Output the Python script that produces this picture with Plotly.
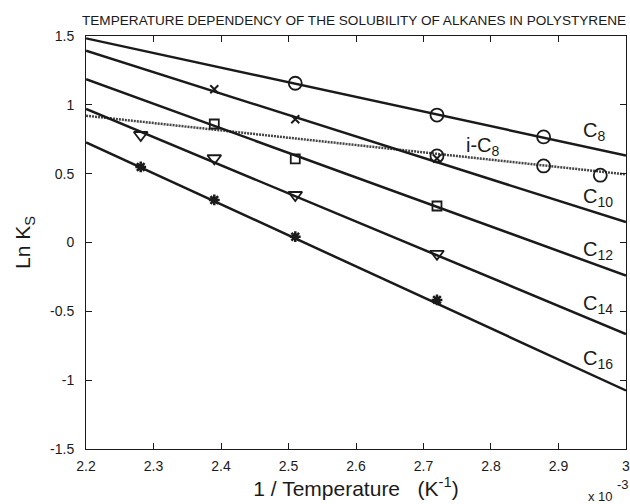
import plotly.graph_objects as go

# ---- data (x in units of 1e-3 K^-1) ----
series_names = ["C8", "i-C8", "C10", "C12", "C14", "C16"]

c8_x = [2.51, 2.72, 2.878]
c8_y = [1.157, 0.926, 0.767]
ic8_x = [2.72, 2.878, 2.962]
ic8_y = [0.629, 0.556, 0.489]
c10_x = [2.39, 2.51, 2.72]
c10_y = [1.113, 0.895, 0.61]
c12_x = [2.39, 2.51, 2.72]
c12_y = [0.861, 0.607, 0.265]
c14_x = [2.281, 2.39, 2.51, 2.72]
c14_y = [0.781, 0.612, 0.345, -0.082]
c16_x = [2.281, 2.39, 2.51, 2.72]
c16_y = [0.549, 0.309, 0.042, -0.417]

# fitted lines, values at x = 2.2 and x = 3.0
fit_x = [2.2, 3.0]
c8_fit = [1.483, 0.632]
ic8_fit = [0.921, 0.495]
c10_fit = [1.393, 0.148]
c12_fit = [1.186, -0.24]
c14_fit = [0.970, -0.665]
c16_fit = [0.728, -1.075]

x_ticks = [2.2, 2.3, 2.4, 2.5, 2.6, 2.7, 2.8, 2.9, 3.0]
x_tick_text = ["2.2", "2.3", "2.4", "2.5", "2.6", "2.7", "2.8", "2.9", "3"]
y_ticks = [-1.5, -1, -0.5, 0, 0.5, 1, 1.5]
y_tick_text = ["-1.5", "-1", "-0.5", "0", "0.5", "1", "1.5"]

# label positions (data coords)
label_text = ["C<sub>8</sub>", "i-C<sub>8</sub>", "C<sub>10</sub>", "C<sub>12</sub>", "C<sub>14</sub>", "C<sub>16</sub>"]
label_x = [2.933, 2.76, 2.933, 2.933, 2.933, 2.933]
label_y = [0.805, 0.70, 0.325, -0.06, -0.45, -0.85]

LINE = "#1a1a1a"
fig = go.Figure()

fits = [c8_fit, ic8_fit, c10_fit, c12_fit, c14_fit, c16_fit]
for name, fy in zip(series_names, fits):
    dotted = name == "i-C8"
    fig.add_trace(go.Scatter(x=fit_x, y=fy, mode="lines",
                             line=dict(color="#444444" if dotted else LINE,
                                       width=2.5, dash="2px,1px" if dotted else "solid"),
                             showlegend=False, hoverinfo="skip"))

pts = [
    (c8_x, c8_y, "circle-open", 13, 1.8),
    (ic8_x, ic8_y, "circle-open", 13, 1.8),
    (c10_x, c10_y, "x-thin-open", 8, 2),
    (c12_x, c12_y, "square-open", 9, 1.8),
    (c14_x, c14_y, "triangle-down-open", 12, 1.8),
    (c16_x, c16_y, "asterisk-open", 9, 2.5),
]
for (px, py, sym, sz, lw), name in zip(pts, series_names):
    fig.add_trace(go.Scatter(x=px, y=py, mode="markers", name=name,
                             marker=dict(symbol=sym, size=sz, color=LINE,
                                         line=dict(color=LINE, width=lw)),
                             showlegend=False))

for t, lx, ly in zip(label_text, label_x, label_y):
    fig.add_annotation(x=lx, y=ly, text=t, showarrow=False, xanchor="left",
                       yanchor="middle", font=dict(size=20, color=LINE))

# axis multiplier "x 10^-3"
fig.add_annotation(x=1.0, y=-0.116, xref="paper", yref="paper", text="x 10",
                   showarrow=False, xanchor="right", yanchor="middle", xshift=-11,
                   font=dict(size=13, color=LINE))
fig.add_annotation(x=1.0, y=-0.085, xref="paper", yref="paper", text="-3",
                   showarrow=False, xanchor="left", yanchor="middle", xshift=-11,
                   font=dict(size=13, color=LINE))

fig.add_annotation(x=1.0, y=1.0605, xref="paper", yref="paper",
                   text="TEMPERATURE DEPENDENCY OF THE SOLUBILITY OF ALKANES IN POLYSTYRENE",
                   showarrow=False, xanchor="right", yanchor="top", xshift=2,
                   font=dict(size=13.6, color=LINE))

axis_common = dict(showline=True, linecolor=LINE, linewidth=1, mirror="ticks",
                   ticks="inside", ticklen=6, tickcolor=LINE, showgrid=False,
                   zeroline=False, automargin=False, tickfont=dict(size=14, color=LINE))

fig.update_layout(
    width=630, height=504,
    margin=dict(l=86, r=4, t=36, b=55),
    paper_bgcolor="white", plot_bgcolor="white",
    font=dict(family="Arial, Liberation Sans, sans-serif", color=LINE),
    xaxis=dict(range=[2.1999, 3.0001], tickvals=x_ticks, ticktext=x_tick_text,
               ticklabelstandoff=4, ticklabeloverflow="allow",
               title=dict(text="1 / Temperature&nbsp;&nbsp;&nbsp;(K<sup>-1</sup>)",
                          font=dict(size=21), standoff=5),
               **axis_common),
    yaxis=dict(range=[-1.5001, 1.5001], tickvals=y_ticks, ticktext=y_tick_text,
               ticklabelstandoff=8, ticklabeloverflow="allow",
               title=dict(text="Ln K<sub>S</sub>", font=dict(size=21), standoff=13),
               **axis_common),
)

fig.write_html("out.html", config={"displayModeBar": False},
               post_script="document.body.style.margin='0';document.body.style.overflow='hidden';")
